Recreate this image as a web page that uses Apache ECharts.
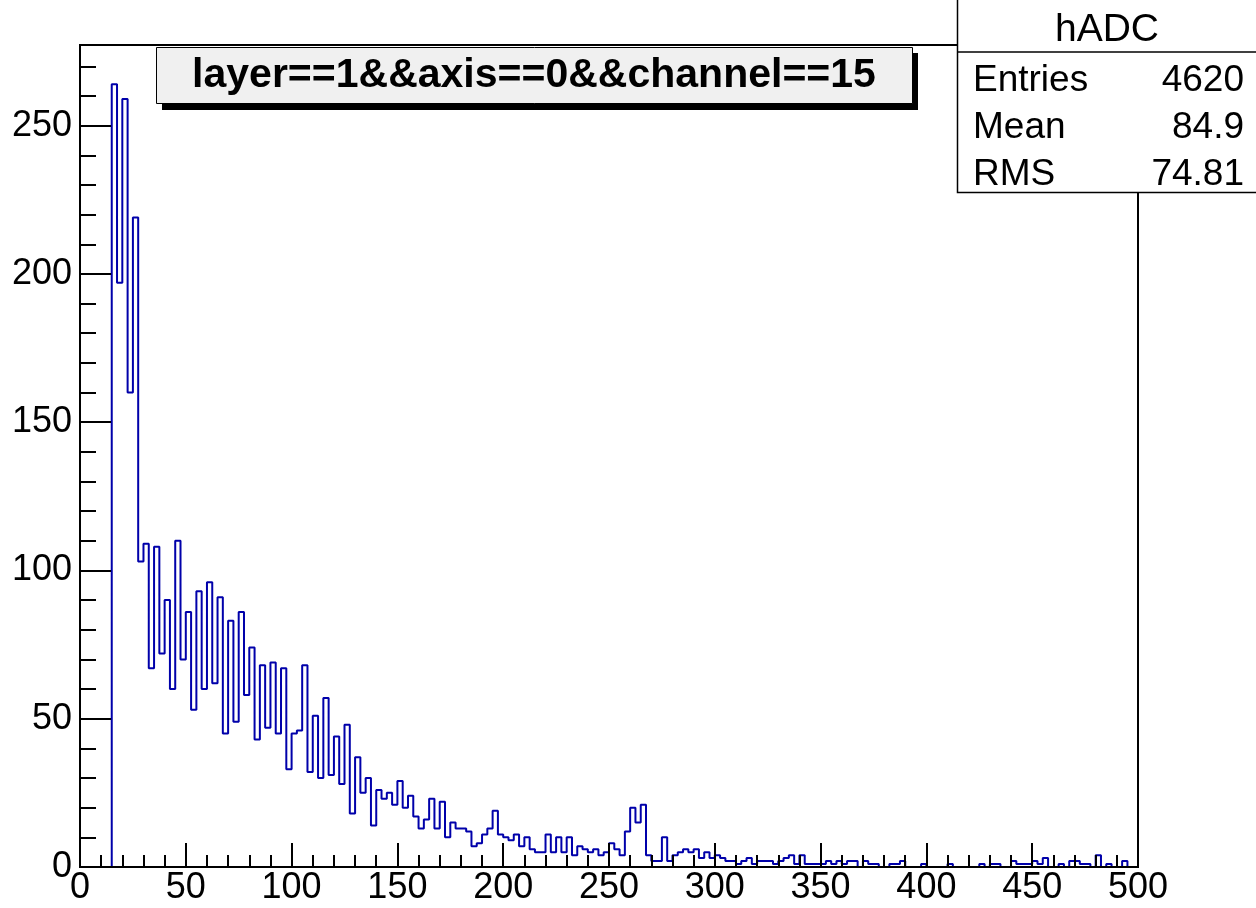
<!DOCTYPE html>
<html>
<head>
<meta charset="utf-8">
<script src="https://cdn.jsdelivr.net/npm/echarts@6/dist/echarts.min.js"></script>
<style>
html,body{margin:0;padding:0;background:#fff;}
#chart{width:1256px;height:908px;}
</style>
</head>
<body>
<div id="chart"></div>
<script>
// ---- data ----
const binLow = 0;
const binHigh = 500;
const binWidth = 2.5;
const counts = [
  0, 0, 0, 0, 0, 0, 264, 197, 259, 160,
  219, 103, 109, 67, 108, 72, 90, 60, 110, 70,
  86, 53, 93, 60, 96, 62, 91, 45, 83, 49,
  86, 58, 74, 43, 68, 47, 69, 45, 67, 33,
  45, 46, 68, 32, 51, 30, 57, 31, 44, 28,
  48, 18, 37, 25, 30, 14, 26, 23, 25, 21,
  29, 20, 24, 17, 13, 16, 23, 13, 22, 10,
  15, 13, 13, 12, 7, 8, 11, 13, 19, 11,
  10, 9, 11, 7, 10, 6, 5, 5, 11, 5,
  10, 5, 10, 4, 7, 6, 5, 6, 4, 5,
  8, 6, 4, 12, 20, 15, 21, 4, 2, 2,
  10, 2, 4, 5, 6, 5, 6, 3, 5, 3,
  4, 3, 2, 2, 1, 2, 3, 1, 2, 2,
  2, 1, 2, 3, 4, 1, 4, 1, 1, 1,
  1, 2, 1, 2, 1, 2, 2, 0, 2, 1,
  1, 0, 0, 1, 1, 2, 0, 0, 0, 1,
  0, 0, 0, 0, 1, 0, 0, 0, 0, 0,
  1, 0, 1, 1, 0, 0, 2, 1, 1, 1,
  2, 1, 3, 0, 0, 1, 0, 2, 2, 1,
  1, 0, 4, 0, 1, 0, 0, 2, 0, 0
];
const xTickLabels = [0, 50, 100, 150, 200, 250, 300, 350, 400, 450, 500];
const xMinorTicks = [0,10,20,30,40,50,60,70,80,90,100,110,120,130,140,150,160,170,180,190,200,210,220,230,240,250,260,270,280,290,300,310,320,330,340,350,360,370,380,390,400,410,420,430,440,450,460,470,480,490,500];
const yTickLabels = [0, 50, 100, 150, 200, 250];
const yMinorTicks = [0,10,20,30,40,50,60,70,80,90,100,110,120,130,140,150,160,170,180,190,200,210,220,230,240,250,260,270];
const yMax = 277.2;
const titleText = 'layer==1&&axis==0&&channel==15';
const statsName = 'hADC';
const statsLabels = ['Entries', 'Mean', 'RMS'];
const statsValues = ['4620', '84.9', '74.81'];

// ---- build step data: one point per bin low edge, plus the last edge ----
const stepData = counts.map((c, i) => [binLow + i * binWidth, c]);
stepData.push([binHigh, counts[counts.length - 1]]);

const FONT = '"Liberation Sans", Arial, Helvetica, sans-serif';
const chart = echarts.init(document.getElementById('chart'), null, {renderer: 'canvas'});

const statsGraphics = [];
statsGraphics.push({
  type: 'rect', z: 100,
  shape: {x: 957.5, y: -2, width: 310, height: 194.5},
  style: {fill: '#fff', stroke: '#000', lineWidth: 1.5}
});
statsGraphics.push({
  type: 'line', z: 101,
  shape: {x1: 957.5, y1: 52, x2: 1256, y2: 52},
  style: {stroke: '#000', lineWidth: 1.5}
});
statsGraphics.push({
  type: 'text', z: 102, x: 1107, y: 30,
  style: {text: statsName, font: '39px ' + FONT, fill: '#000', align: 'center', verticalAlign: 'middle'}
});
const rowY = [81, 128, 175];
statsLabels.forEach((lab, i) => {
  statsGraphics.push({
    type: 'text', z: 102, x: 973, y: rowY[i],
    style: {text: lab, font: '37px ' + FONT, fill: '#000', align: 'left', verticalAlign: 'middle'}
  });
  statsGraphics.push({
    type: 'text', z: 102, x: 1244, y: rowY[i],
    style: {text: statsValues[i], font: '37px ' + FONT, fill: '#000', align: 'right', verticalAlign: 'middle'}
  });
});

const option = {
  backgroundColor: '#ffffff',
  animation: false,
  grid: {
    left: 80, right: 118, top: 45, bottom: 41,
    show: true, borderColor: '#000', borderWidth: 2,
    backgroundColor: 'transparent',
    containLabel: false,
    outerBoundsMode: 'none'
  },
  xAxis: [
    {
      type: 'value', min: 0, max: 500, interval: 50, position: 'bottom', z: 10,
      axisLine: {show: true, onZero: false, lineStyle: {color: '#000', width: 2}},
      axisTick: {show: true, inside: true, length: 24, lineStyle: {color: '#000', width: 2}, customValues: xTickLabels},
      axisLabel: {show: true, color: '#000', fontSize: 36, fontFamily: FONT, margin: 3, customValues: xTickLabels},
      splitLine: {show: false}
    },
    {
      type: 'value', min: 0, max: 500, interval: 10, position: 'bottom', z: 10,
      axisLine: {show: false, onZero: false},
      axisTick: {show: true, inside: true, length: 12, lineStyle: {color: '#000', width: 2}, customValues: xMinorTicks},
      axisLabel: {show: false},
      splitLine: {show: false}
    }
  ],
  yAxis: [
    {
      type: 'value', min: 0, max: yMax, interval: 50, position: 'left', z: 10,
      axisLine: {show: true, onZero: false, lineStyle: {color: '#000', width: 2}},
      axisTick: {show: true, inside: true, length: 31, lineStyle: {color: '#000', width: 2}, customValues: yTickLabels},
      axisLabel: {show: true, color: '#000', fontSize: 36, fontFamily: FONT, margin: 8, customValues: yTickLabels},
      splitLine: {show: false}
    },
    {
      type: 'value', min: 0, max: yMax, interval: 10, position: 'left', z: 10,
      axisLine: {show: false, onZero: false},
      axisTick: {show: true, inside: true, length: 16, lineStyle: {color: '#000', width: 2}, customValues: yMinorTicks},
      axisLabel: {show: false},
      splitLine: {show: false}
    }
  ],
  series: [
    {
      type: 'line',
      xAxisIndex: 0, yAxisIndex: 0,
      step: 'end',
      data: stepData,
      showSymbol: false,
      symbol: 'none',
      clip: true,
      lineStyle: {color: '#0000aa', width: 2},
      z: 2
    }
  ],
  graphic: [
    {
      type: 'rect', z: 100,
      shape: {x: 162, y: 53, width: 756, height: 57},
      style: {fill: '#000'}
    },
    {
      type: 'rect', z: 101,
      shape: {x: 156.5, y: 47.5, width: 756, height: 56},
      style: {fill: '#f0f0f0', stroke: '#000', lineWidth: 1}
    },
    {
      type: 'text', z: 102, x: 534, y: 76,
      style: {text: titleText, font: 'bold 41px ' + FONT, fill: '#000', align: 'center', verticalAlign: 'middle'}
    }
  ].concat(statsGraphics)
};
chart.setOption(option);
</script>
</body>
</html>
